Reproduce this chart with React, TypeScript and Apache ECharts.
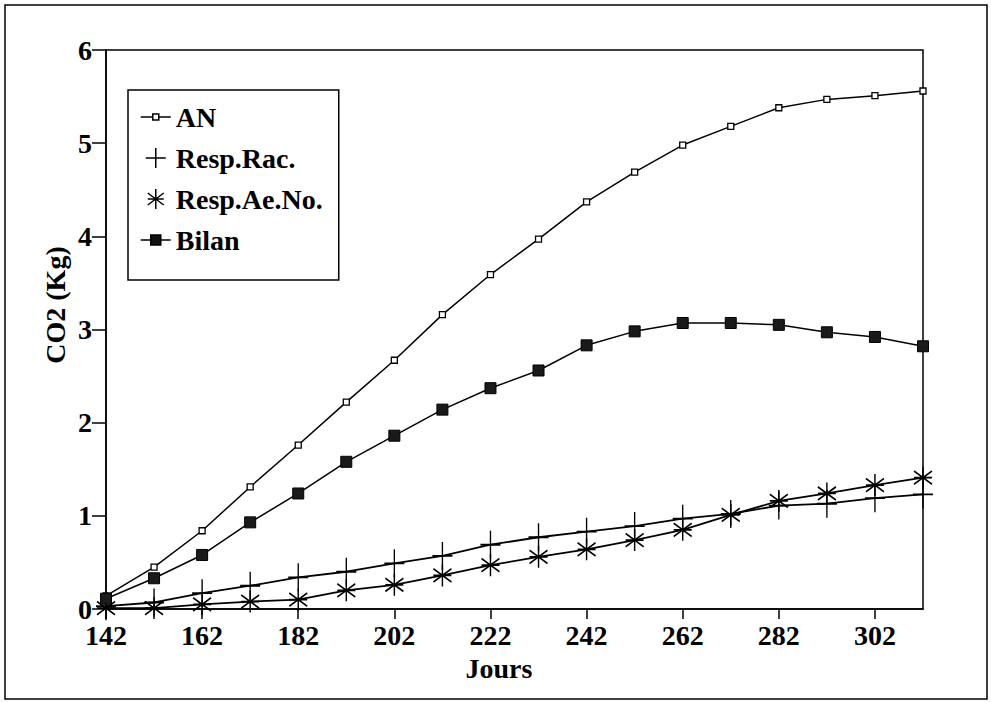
import React, { useEffect, useRef } from "react";
import * as echarts from "echarts";

const days = [142, 152, 162, 172, 182, 192, 202, 212, 222, 232, 242, 252, 262, 272, 282, 292, 302, 312];
const anValues = [0.14, 0.45, 0.84, 1.31, 1.76, 2.22, 2.67, 3.16, 3.59, 3.97, 4.37, 4.69, 4.98, 5.18, 5.38, 5.47, 5.51, 5.56];
const racValues = [0.03, 0.07, 0.17, 0.25, 0.34, 0.4, 0.49, 0.57, 0.69, 0.77, 0.83, 0.89, 0.97, 1.02, 1.11, 1.13, 1.19, 1.23];
const aeNoValues = [0.01, 0.01, 0.05, 0.08, 0.1, 0.2, 0.26, 0.36, 0.47, 0.56, 0.64, 0.74, 0.85, 1.01, 1.16, 1.24, 1.33, 1.41];
const bilanValues = [0.11, 0.33, 0.58, 0.93, 1.24, 1.58, 1.86, 2.14, 2.37, 2.56, 2.83, 2.98, 3.07, 3.07, 3.05, 2.97, 2.92, 2.82];
const xTicks = [142, 162, 182, 202, 222, 242, 262, 282, 302];
const yTicks = [0, 1, 2, 3, 4, 5, 6];
const seriesNames = ["AN", "Resp.Rac.", "Resp.Ae.No.", "Bilan"];
const xTitle = "Jours";
const yTitle = "CO2 (Kg)";

const FONT = '"Liberation Serif", "Times New Roman", serif';

const plusPath = "path://M0,14 L20,14 M10,0 L10,28";
const starPath = "path://M8,0 L8,20 M0,4 L16,16 M16,4 L0,16 M0,10 L16,10";

const pair = (vals: number[]) => days.map((d, i) => [d, vals[i]]);

export default function App() {
  const ref = useRef<HTMLDivElement>(null);
  useEffect(() => {
    if (!ref.current) return;
    const chart = echarts.init(ref.current, null, { renderer: "svg" });
    const labelStyle = {
      fontFamily: FONT,
      fontWeight: "bold" as const,
      fontSize: 28,
      color: "#000",
    };
    chart.setOption({
      animation: false,
      backgroundColor: "#fff",
      textStyle: { fontFamily: FONT },
      grid: {
        left: 106,
        right: 68,
        top: 50,
        bottom: 93,
        show: true,
        borderColor: "#000",
        borderWidth: 1.5,
        backgroundColor: "transparent",
      },
      xAxis: {
        type: "value",
        min: 142,
        max: 312,
        axisLine: { show: true, lineStyle: { color: "#000", width: 1.5 } },
        axisTick: {
          show: true,
          length: 10,
          lineStyle: { color: "#000", width: 1.5 },
          customValues: xTicks,
        },
        axisLabel: { ...labelStyle, margin: 15, lineHeight: 22, customValues: xTicks },
        splitLine: { show: false },
      },
      yAxis: {
        type: "value",
        min: 0,
        max: 6,
        interval: 1,
        axisLine: { show: true, lineStyle: { color: "#000", width: 1.5 } },
        axisTick: {
          show: true,
          length: 14,
          lineStyle: { color: "#000", width: 1.5 },
          customValues: yTicks,
        },
        axisLabel: {
          ...labelStyle,
          margin: 14,
          lineHeight: 18,
          padding: [0, 0, 8, 0],
          customValues: yTicks,
        },
        splitLine: { show: false },
      },
      legend: {
        orient: "vertical",
        left: 128,
        top: 90,
        padding: [13, 16, 26, 12],
        itemGap: 13,
        itemWidth: 30,
        itemHeight: 20,
        selectedMode: false,
        backgroundColor: "#fff",
        borderColor: "#000",
        borderWidth: 1.5,
        textStyle: labelStyle,
        data: [
          {
            name: seriesNames[0],
            icon: "path://M0,10 L12,10 M18,10 L30,10 M12,7 L18,7 L18,13 L12,13 Z",
            itemStyle: { color: "#fff", borderColor: "#000", borderWidth: 1.5 },
          },
          {
            name: seriesNames[1],
            icon: "path://M0,10 L20,10 M10,0 L10,20",
            itemStyle: { color: "#000", borderColor: "#000", borderWidth: 1.5 },
          },
          {
            name: seriesNames[2],
            icon: "path://M8,0 L8,20 M0,4 L16,16 M16,4 L0,16 M0,10 L16,10",
            itemStyle: { color: "#000", borderColor: "#000", borderWidth: 1.5 },
          },
          {
            name: seriesNames[3],
            icon: "path://M0,10 L10,10 M20,10 L30,10 M10,5 L20,5 L20,15 L10,15 Z",
            itemStyle: { color: "#111", borderColor: "#000", borderWidth: 1.5 },
          },
        ],
      },
      series: [
        {
          name: seriesNames[0],
          type: "line",
          data: pair(anValues),
          symbol: "rect",
          symbolSize: 6,
          showAllSymbol: true,
          lineStyle: { color: "#000", width: 1.5 },
          itemStyle: { color: "#fff", borderColor: "#000", borderWidth: 1.3 },
          z: 3,
        },
        {
          name: seriesNames[1],
          type: "line",
          data: pair(racValues),
          symbol: plusPath,
          symbolSize: [20, 28],
          symbolKeepAspect: false,
          showAllSymbol: true,
          lineStyle: { color: "#000", width: 1.8 },
          itemStyle: { color: "#000", borderColor: "#000", borderWidth: 1.6 },
          z: 2,
        },
        {
          name: seriesNames[2],
          type: "line",
          data: pair(aeNoValues),
          symbol: starPath,
          symbolSize: [18, 22],
          symbolKeepAspect: false,
          showAllSymbol: true,
          lineStyle: { color: "#000", width: 1.8 },
          itemStyle: { color: "#000", borderColor: "#000", borderWidth: 1.6 },
          z: 2,
        },
        {
          name: seriesNames[3],
          type: "line",
          data: pair(bilanValues),
          symbol: "rect",
          symbolSize: 11,
          showAllSymbol: true,
          lineStyle: { color: "#000", width: 1.5 },
          itemStyle: { color: "#1a1a1a", borderColor: "#000", borderWidth: 1 },
          z: 3,
        },
      ],
      graphic: [
        {
          type: "rect",
          z: -10,
          shape: { x: 5, y: 5, width: 982, height: 694 },
          style: { fill: "none", stroke: "#000", lineWidth: 1.5 },
        },
        {
          type: "text",
          x: 55,
          y: 305,
          rotation: Math.PI / 2,
          style: {
            text: yTitle,
            font: `bold 28px ${FONT}`,
            fill: "#000",
            textAlign: "center",
            textVerticalAlign: "middle",
          },
        },
        {
          type: "text",
          x: 499,
          y: 668,
          style: {
            text: xTitle,
            font: `bold 28px ${FONT}`,
            fill: "#000",
            textAlign: "center",
            textVerticalAlign: "middle",
          },
        },
      ],
    });
    return () => chart.dispose();
  }, []);
  return (
    <div
      ref={ref}
      style={{ position: "absolute", left: 0, top: 0, width: 991, height: 702, background: "#fff" }}
    />
  );
}
